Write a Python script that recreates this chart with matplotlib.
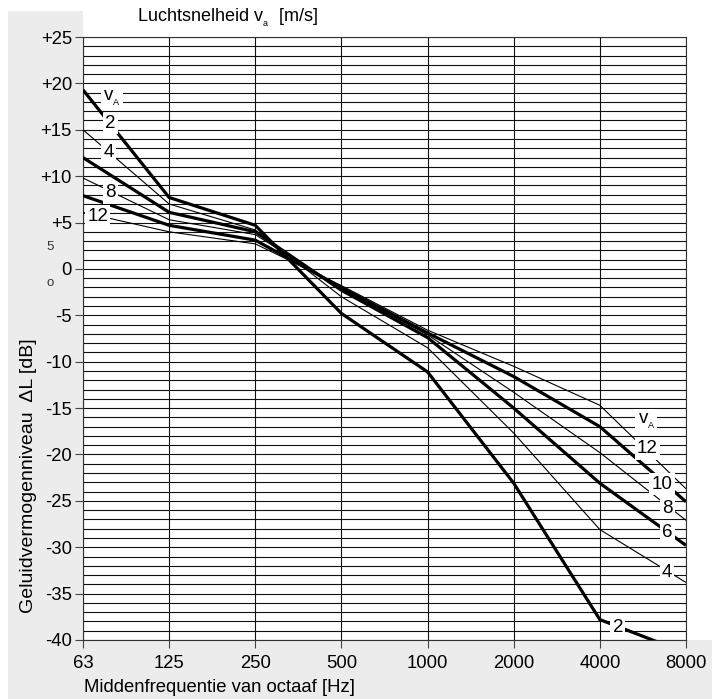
import numpy as np
import matplotlib
matplotlib.use("Agg")
import matplotlib.pyplot as plt
from matplotlib.patches import Rectangle

plt.rcParams['font.family'] = ['Liberation Sans', 'DejaVu Sans']
plt.rcParams['mathtext.fontset'] = 'custom'
plt.rcParams['mathtext.rm'] = 'Liberation Sans'
plt.rcParams['mathtext.it'] = 'Liberation Sans'

# ---- data ----
freq_labels = ["63", "125", "250", "500", "1000", "2000", "4000", "8000"]
speeds = [2, 4, 6, 8, 10, 12]
dL_v2 = [19.3, 7.7, 4.7, -4.8, -11.1, -23.1, -37.8, -41.4]
dL_v4 = [15.0, 7.0, 4.2, -3.0, -8.5, -17.7, -28.1, -33.8]
dL_v6 = [12.0, 6.1, 4.0, -2.3, -7.4, -15.0, -23.1, -29.8]
dL_v8 = [9.8, 5.3, 3.7, -2.2, -7.1, -13.3, -19.8, -27.1]
dL_v10 = [7.9, 4.7, 3.1, -2.0, -6.9, -11.6, -17.0, -25.1]
dL_v12 = [6.1, 4.0, 2.7, -1.8, -6.6, -10.5, -14.7, -23.7]
series = [dL_v2, dL_v4, dL_v6, dL_v8, dL_v10, dL_v12]
thick = [True, False, True, False, True, False]

y_major = list(range(-40, 26, 5))
y_major_labels = [("+%d" % v if v > 0 else "%d" % v) for v in y_major]

VA = r"v$_{_\mathregular{A}}$"
# inline labels (text, octave index, dB)
left_labels = [(VA, 0.34, 18.4), ("2", 0.32, 15.7), ("4", 0.30, 12.5),
               ("8", 0.32, 8.2), ("12", 0.17, 5.7)]
right_labels = [(VA, 6.54, -16.4), ("12", 6.55, -19.4), ("10", 6.72, -23.2),
                ("8", 6.78, -25.8), ("6", 6.78, -28.4), ("4", 6.78, -32.7), ("2", 6.21, -38.6)]

W, H = 712, 699
fig = plt.figure(figsize=(W / 100, H / 100), dpi=100)
fig.patch.set_facecolor('white')

gray = '#ececec'
fig.patches.append(Rectangle((8 / W, 59 / H), (83 - 8) / W, (H - 11 - 59) / H,
                             transform=fig.transFigure, facecolor=gray, edgecolor='none', zorder=-5))
fig.patches.append(Rectangle((8 / W, 0), (W - 8) / W, 59 / H,
                             transform=fig.transFigure, facecolor=gray, edgecolor='none', zorder=-5))

ax = fig.add_axes([83 / W, 59 / H, (686 - 83) / W, (640 - 37) / H])
ax.set_zorder(2)
ax.set_facecolor('white')
x = np.arange(len(freq_labels))

ax.set_xlim(0, len(freq_labels) - 1)
ax.set_ylim(-40, 25)

ax.set_yticks(y_major)
ax.set_yticklabels(y_major_labels)
ax.set_yticks(np.arange(-40, 26, 1), minor=True)
ax.set_xticks(x)
ax.set_xticklabels(freq_labels)

ax.grid(which='both', axis='y', color='#111111', lw=0.8, zorder=1)
ax.grid(which='major', axis='x', color='#111111', lw=0.8, zorder=1)
ax.set_axisbelow(True)
ax.tick_params(which='minor', length=0)
ax.tick_params(which='major', direction='out', length=6, width=0.8, color='#444444',
               labelsize=13.3, pad=2)
ax.tick_params(axis='x', pad=5)
for s in ax.spines.values():
    s.set_color('#333333')
    s.set_linewidth(0.8)

for vals, th in zip(series, thick):
    ax.plot(x, vals, color='black', lw=2.3 if th else 0.8, solid_capstyle='butt',
            solid_joinstyle='miter', zorder=3)

for txt, xi, yi in left_labels + right_labels:
    ax.text(xi, yi, txt, ha='center', va='center', fontsize=13.5, zorder=5,
            bbox=dict(facecolor='white', edgecolor='none', pad=1.6))

fig.text(137 / W, 1 - 18 / H, r"Luchtsnelheid v$_{_\mathregular{a}}$  [m/s]", fontsize=13,
         ha='left', va='center')
fig.text(84 / W, 11 / H, "Middenfrequentie van octaaf [Hz]", fontsize=13.3, ha='left', va='center')
fig.text(29 / W, 1 - 476 / H, "Geluidvermogenniveau  \u0394L [dB]", fontsize=14, rotation=90,
         ha='center', va='center')
fig.text(50 / W, 1 - 247 / H, "5", fontsize=9.5, ha='center', va='center', color='#333333')
fig.text(50 / W, 1 - 283 / H, "o", fontsize=9.5, ha='center', va='center', color='#333333')

fig.savefig("out.png", dpi=100)
